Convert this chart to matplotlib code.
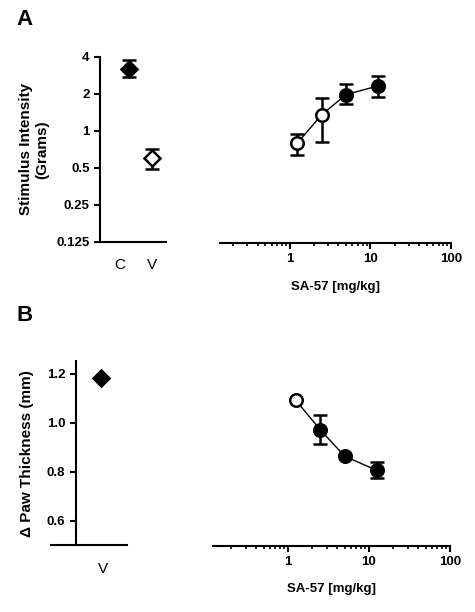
import matplotlib
matplotlib.use("Agg")
import matplotlib.pyplot as plt
from matplotlib.ticker import FixedLocator, NullFormatter, LogLocator, NullLocator
import numpy as np

plt.rcParams['font.family'] = ['Liberation Sans', 'DejaVu Sans']

# ---------------- data ----------------
# Panel A, left: controls
a_ctrl_labels = ["C", "V"]
a_ctrl_mean = [3.19, 0.60]
a_ctrl_upper = [3.78, 0.712]
a_ctrl_lower = [2.73, 0.489]
a_ctrl_filled = [True, False]

# Panel A, right: dose response
a_dose = [1.25, 2.5, 5.0, 12.5]
a_mean = [0.807, 1.365, 1.987, 2.335]
a_upper = [0.956, 1.879, 2.397, 2.817]
a_lower = [0.648, 0.817, 1.657, 1.90]
a_filled = [False, False, True, True]

a_yticks = [0.125, 0.25, 0.5, 1, 2, 4]
a_yticklabels = ["0.125", "0.25", "0.5", "1", "2", "4"]

# Panel B, left: vehicle
b_ctrl_labels = ["V"]
b_ctrl_mean = [1.185]

# Panel B, right: dose response
b_dose = [1.25, 2.5, 5.0, 12.5]
b_mean = [1.093, 0.973, 0.865, 0.807]
b_upper = [1.093, 1.031, 0.865, 0.841]
b_lower = [1.093, 0.916, 0.865, 0.777]
b_filled = [False, True, True, True]

b_yticks = [0.6, 0.8, 1.0, 1.2]
b_yticklabels = ["0.6", "0.8", "1.0", "1.2"]

x_ticks = [1, 10, 100]
x_ticklabels = ["1", "10", "100"]

# ---------------- figure ----------------
W, H = 475, 612
fig = plt.figure(figsize=(W / 100, H / 100), dpi=100)

def px_axes(x0, y0, x1, y1):
    return fig.add_axes([x0 / W, 1 - y1 / H, (x1 - x0) / W, (y1 - y0) / H])

LW = 1.5
TICKFS = 9.5
BOLD = 'bold'

def style_common(ax):
    for s in ['top', 'right']:
        ax.spines[s].set_visible(False)
    for s in ['left', 'bottom']:
        ax.spines[s].set_linewidth(LW)
    ax.tick_params(width=LW, length=4, labelsize=TICKFS)
    for lab in ax.get_yticklabels() + ax.get_xticklabels():
        lab.set_fontweight(BOLD)

def draw_err(ax, x, m, lo, hi, filled, marker, ms, line=False):
    x = np.asarray(x); m = np.asarray(m)
    yerr = np.vstack([m - np.asarray(lo), np.asarray(hi) - m])
    if line:
        ax.plot(x, m, color='black', lw=1.0, zorder=2)
    ax.errorbar(x, m, yerr=yerr, fmt='none', ecolor='black', elinewidth=1.8,
                capsize=5, capthick=1.8, zorder=3)
    for xi, mi, f in zip(x, m, filled):
        ax.plot([xi], [mi], marker=marker, ms=ms, mfc='black' if f else 'white',
                mec='black', mew=1.8, linestyle='none', zorder=4)

# ---- Panel A left ----
axA1 = px_axes(100, 57, 166, 241.7)
axA1.set_yscale('log', base=2)
axA1.set_ylim(0.125, 4)
axA1.set_xlim(-0.26, 2.61)
xs = np.arange(1, len(a_ctrl_labels) + 1)
draw_err(axA1, xs, a_ctrl_mean, a_ctrl_lower, a_ctrl_upper, a_ctrl_filled, 'D', 8.5)
axA1.yaxis.set_major_locator(FixedLocator(a_yticks))
axA1.yaxis.set_minor_locator(NullLocator())
axA1.set_yticklabels(a_yticklabels)
axA1.set_xticks([0.6, 2.0])
axA1.set_xticklabels(a_ctrl_labels)
style_common(axA1)
axA1.tick_params(axis='x', length=0, pad=12)
for lab in axA1.get_xticklabels():
    lab.set_fontweight('normal')
    lab.set_fontsize(11)
axA1.set_ylabel("Stimulus Intensity\n(Grams)", fontsize=11, fontweight='bold', labelpad=5)

# ---- Panel A right ----
axA2 = px_axes(220, 57, 451, 243)
axA2.set_xscale('log')
axA2.set_yscale('log', base=2)
axA2.set_ylim(0.125, 4)
axA2.set_xlim(0.137, 100)
draw_err(axA2, a_dose, a_mean, a_lower, a_upper, a_filled, 'o', 9, line=True)
axA2.spines['left'].set_visible(False)
axA2.yaxis.set_visible(False)
axA2.xaxis.set_major_locator(FixedLocator(x_ticks))
axA2.set_xticklabels(x_ticklabels)
axA2.xaxis.set_minor_locator(LogLocator(base=10, subs=np.arange(2, 10)))
axA2.xaxis.set_minor_formatter(NullFormatter())
style_common(axA2)
axA2.tick_params(axis='x', which='minor', width=1.2, length=2.5)
axA2.set_xlabel("SA-57 [mg/kg]", fontsize=9.5, fontweight='bold', labelpad=11)

# ---- Panel B left ----
axB1 = px_axes(50.7, 361, 126.7, 545.3)
axB1.set_ylim(0.5, 1.253)
axB1.set_xlim(-0.2575, 1.6425)
axB1.spines['left'].set_position(('data', 0.3675))
xs = np.arange(1, len(b_ctrl_labels) + 1)
axB1.plot(xs, b_ctrl_mean, marker='D', ms=8.5, mfc='black', mec='black',
          mew=1.8, linestyle='none', zorder=4)
axB1.yaxis.set_major_locator(FixedLocator(b_yticks))
axB1.set_yticklabels(b_yticklabels)
axB1.set_xticks([1.05])
axB1.set_xticklabels(b_ctrl_labels)
style_common(axB1)
axB1.tick_params(axis='x', length=0, pad=12)
for lab in axB1.get_xticklabels():
    lab.set_fontweight('normal')
    lab.set_fontsize(11)
axB1.set_ylabel("\u0394 Paw Thickness (mm)", fontsize=11, fontweight='bold', labelpad=9)

# ---- Panel B right ----
axB2 = px_axes(213.3, 361, 450, 545.7)
axB2.set_xscale('log')
axB2.set_ylim(0.5, 1.253)
axB2.set_xlim(0.12, 100)
draw_err(axB2, b_dose, b_mean, b_lower, b_upper, b_filled, 'o', 9, line=True)
axB2.spines['left'].set_visible(False)
axB2.yaxis.set_visible(False)
axB2.xaxis.set_major_locator(FixedLocator(x_ticks))
axB2.set_xticklabels(x_ticklabels)
axB2.xaxis.set_minor_locator(LogLocator(base=10, subs=np.arange(2, 10)))
axB2.xaxis.set_minor_formatter(NullFormatter())
style_common(axB2)
axB2.tick_params(axis='x', which='minor', width=1.2, length=2.5)
axB2.set_xlabel("SA-57 [mg/kg]", fontsize=9.5, fontweight='bold', labelpad=11)

# Panel letters
fig.text(16 / W, 1 - 9 / H, "A", fontsize=16, fontweight='bold', va='top', ha='left')
fig.text(16 / W, 1 - 305 / H, "B", fontsize=16, fontweight='bold', va='top', ha='left')

fig.savefig("out.png", dpi=100, facecolor='white')
